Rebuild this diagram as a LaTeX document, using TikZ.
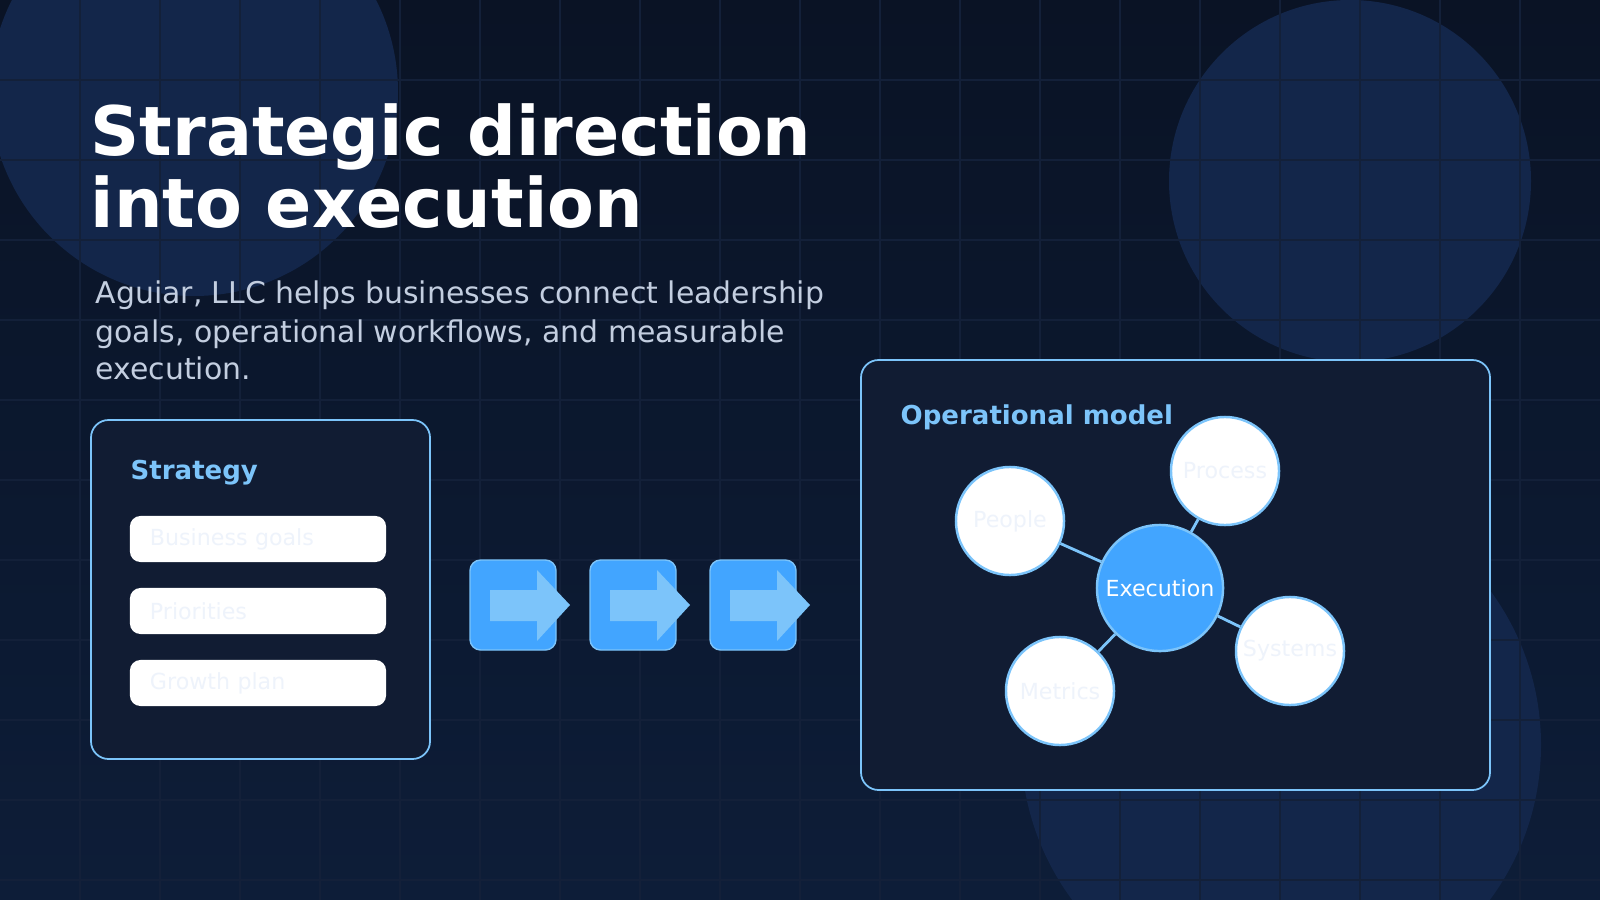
\documentclass[tikz,border=0pt]{standalone}
\usepackage{fontspec}
\setmainfont{DejaVu Sans}
\usetikzlibrary{positioning}
\definecolor{bgtop}{HTML}{0A1325}
\definecolor{bgbot}{HTML}{0D1D38}
\definecolor{blob}{HTML}{13264A}
\definecolor{gridc}{HTML}{132039}
\definecolor{panel}{HTML}{111C33}
\definecolor{edge}{HTML}{7CC4FA}
\definecolor{accent}{HTML}{42A5FF}
\definecolor{soft}{HTML}{C3CEE0}
\definecolor{ghost}{HTML}{EEF3FB}
\tikzset{
  card/.style={draw=edge, line width=0.5pt, fill=panel, rounded corners=5pt},
  pill/.style={fill=white, rounded corners=3pt, minimum width=2.56cm, minimum height=0.46cm,
    text=ghost, font=\fontsize{6.3}{7}\selectfont, align=left, text width=2.16cm},
  hub/.style={circle, draw=edge, line width=0.7pt, fill=accent, minimum size=1.26cm,
    text=white, font=\fontsize{6.3}{7}\selectfont, inner sep=0pt},
  leaf/.style={circle, draw=edge, line width=0.7pt, fill=white, minimum size=1.08cm,
    text=ghost, font=\fontsize{6.3}{7}\selectfont, inner sep=0pt},
  spoke/.style={edge, line width=0.8pt},
  stepbox/.style={fill=accent, draw=edge, line width=0.4pt, rounded corners=3pt}
}
\begin{document}
\begin{tikzpicture}[x=0.01cm, y=-0.01cm]
  % background
  \shade[top color=bgtop, bottom color=bgbot] (0,0) rectangle (1600,900);
  \useasboundingbox (0,0) rectangle (1600,900);
  \fill[blob] (194,92) circle (204);
  \fill[blob] (1350,181) circle (181);
  \fill[blob] (1281,745) circle (260);
  \foreach \gx in {80,160,...,1520} \draw[gridc, line width=0.3pt] (\gx,0) -- (\gx,900);
  \foreach \gy in {80,160,...,880} \draw[gridc, line width=0.3pt] (0,\gy) -- (1600,\gy);

  % heading
  \node[anchor=base west, text=white, font=\fontsize{19.4}{19.4}\bfseries\selectfont, inner sep=0pt] (title1) at (90,155) {Strategic direction};
  \node[anchor=base west, text=white, font=\fontsize{19.4}{19.4}\bfseries\selectfont, inner sep=0pt] (title2) at (90,227) {into execution};
  \node[anchor=base west, text=soft, font=\fontsize{8.5}{8.5}\selectfont, inner sep=0pt] (sub1) at (95,303) {Aguiar, LLC helps businesses connect leadership};
  \node[anchor=base west, text=soft, font=\fontsize{8.5}{8.5}\selectfont, inner sep=0pt] (sub2) at (95,342) {goals, operational workflows, and measurable};
  \node[anchor=base west, text=soft, font=\fontsize{8.5}{8.5}\selectfont, inner sep=0pt] (sub3) at (95,379) {execution.};

  % strategy card
  \draw[card] (91,420) rectangle (430,759);
  \node[anchor=base west, text=edge, font=\fontsize{7.4}{7.4}\bfseries\selectfont, inner sep=0pt] (strat) at (130,479) {Strategy};
  \node[pill] (goals) at (258,539) {Business goals};
  \node[pill] (prio) at (258,611) {Priorities};
  \node[pill] (growth) at (258,683) {Growth plan};

  % arrows
  \foreach \sx in {470,590,710} {
    \draw[stepbox] (\sx,560) rectangle ++(86,90);
    \fill[edge] (\sx+20,590) -- (\sx+67,590) -- (\sx+67,570) -- (\sx+100,605)
      -- (\sx+67,641) -- (\sx+67,621) -- (\sx+20,621) -- cycle;
  }

  % operational model card
  \draw[card] (861,360) rectangle (1490,790);
  \node[anchor=base west, text=edge, font=\fontsize{7.4}{7.4}\bfseries\selectfont, inner sep=0pt] (opm) at (900,424) {Operational model};
  \node[leaf] (people) at (1010,521) {People};
  \node[leaf] (process) at (1225,471) {Process};
  \node[leaf] (systems) at (1290,651) {Systems};
  \node[leaf] (metrics) at (1060,691) {Metrics};
  \node[hub] (exec) at (1160,588) {Execution};
  \foreach \n in {people,process,systems,metrics} \draw[spoke] (exec) -- (\n);
\end{tikzpicture}
\end{document}
